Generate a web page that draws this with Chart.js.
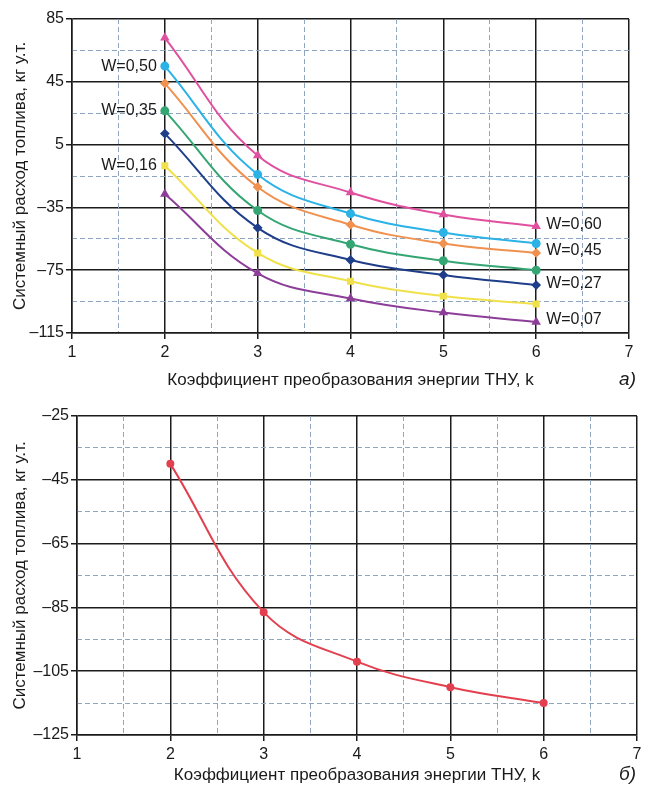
<!DOCTYPE html>
<html>
<head>
<meta charset="utf-8">
<script src="https://cdn.jsdelivr.net/npm/chart.js@4"></script>
<style>
  body { margin: 0; background: #fff; }
  .wrap { position: absolute; left: 0; width: 648px; }
</style>
</head>
<body>
<div class="wrap" style="top:0"><canvas id="chartA" width="648" height="400"></canvas></div>
<div class="wrap" style="top:400px"><canvas id="chartB" width="648" height="399"></canvas></div>
<script>
// k values (коэффициент преобразования)
const kValues = [2, 3, 4, 5, 6];

// chart a) - series per W
const wLabels = ['W=0,60', 'W=0,50', 'W=0,45', 'W=0,35', 'W=0,27', 'W=0,16', 'W=0,07'];
const fuelW060 = [73, -2, -25.5, -39.5, -47];
const fuelW050 = [55, -14, -39, -51, -58];
const fuelW045 = [44, -22, -46, -58, -64];
const fuelW035 = [26.5, -37, -58.5, -69, -75];
const fuelW027 = [12, -48, -68.5, -78, -84.5];
const fuelW016 = [-8.5, -64, -82, -91.5, -96.5];
const fuelW007 = [-26.5, -77, -93, -102, -108];
const labelSide = ['right', 'left', 'right', 'left', 'right', 'left', 'right'];

// chart б)
const fuelTotal = [-40, -86.5, -102, -110, -115];

const xRange = [1, 7];
const yRangeA = [-115, 85];
const yRangeB = [-125, -25];

const FONT = '"Liberation Sans", Arial, sans-serif';
const majorColor = '#1b1b1b';
const minorColor = '#8ea6c0';

const seriesA = [fuelW060, fuelW050, fuelW045, fuelW035, fuelW027, fuelW016, fuelW007];
const colorsA = ['#e0509f', '#2bb2e6', '#f0914f', '#35a673', '#1f3e8a', '#f0e04a', '#8c3e98'];
const stylesA = ['triangle', 'circle', 'rectRot', 'circle', 'rectRot', 'rect', 'triangle'];

function toPoints(arr) {
  return kValues.map((k, i) => ({ x: k, y: arr[i] }));
}

function dashTick(v) {
  return String(v).replace('-', '–');
}

// labels "W=..." next to the first/last point of each curve
const wLabelPlugin = {
  id: 'wLabels',
  afterDatasetsDraw(chart) {
    const ctx = chart.ctx;
    ctx.save();
    ctx.font = '16px ' + FONT;
    ctx.fillStyle = '#1a1a1a';
    ctx.textBaseline = 'middle';
    chart.data.datasets.forEach((ds, i) => {
      const side = labelSide[i];
      const meta = chart.getDatasetMeta(i);
      const pt = side === 'left' ? meta.data[0] : meta.data[meta.data.length - 1];
      ctx.textAlign = side === 'left' ? 'right' : 'left';
      ctx.fillText(ds.label, pt.x + (side === 'left' ? -8 : 10), pt.y - (side === 'left' ? 0 : 2));
    });
    ctx.restore();
  }
};

// "а)" / "б)" caption
const captionPlugin = {
  id: 'caption',
  afterDraw(chart, args, opts) {
    const ctx = chart.ctx;
    ctx.save();
    ctx.font = 'italic 19px ' + FONT;
    ctx.fillStyle = '#1a1a1a';
    ctx.textAlign = 'right';
    ctx.textBaseline = 'middle';
    ctx.fillText(opts.text, chart.width - 12, opts.y);
    ctx.restore();
  }
};

function buildScales(yMin, yMax, yStep, yWidth, xHeight, titlePadBottom) {
  return {
    x: {
      type: 'linear', position: 'bottom', min: xRange[0], max: xRange[1],
      ticks: { stepSize: 1, color: '#1a1a1a', font: { family: FONT, size: 16 }, padding: 4 },
      grid: { color: majorColor, lineWidth: 1.5, tickLength: 6 },
      border: { color: majorColor, width: 1.5 },
      title: {
        display: true, text: 'Коэффициент преобразования энергии ТНУ, k',
        color: '#1a1a1a', font: { family: FONT, size: 17 }, padding: { top: 2, bottom: titlePadBottom }
      },
      afterFit(scale) { scale.height = xHeight; }
    },
    y: {
      type: 'linear', position: 'left', min: yMin, max: yMax,
      ticks: { stepSize: yStep, color: '#1a1a1a', font: { family: FONT, size: 16 }, padding: 2, callback: dashTick },
      grid: { color: majorColor, lineWidth: 1.5, tickLength: 6 },
      border: { color: majorColor, width: 1.5 },
      title: {
        display: true, text: 'Системный расход топлива, кг у.т.',
        color: '#1a1a1a', font: { family: FONT, size: 17 }, padding: { top: 10, bottom: 2 }
      },
      afterFit(scale) { scale.width = yWidth; }
    },
    x2: {
      type: 'linear', position: 'top', min: xRange[0], max: xRange[1],
      ticks: { stepSize: 0.5, display: false },
      grid: {
        drawTicks: false, lineWidth: 1,
        color: c => Number.isInteger(c.tick.value) ? 'rgba(0,0,0,0)' : minorColor
      },
      border: { display: false, dash: [5, 3] },
      afterFit(scale) { scale.height = 0; }
    },
    y2: {
      type: 'linear', position: 'right', min: yMin, max: yMax,
      ticks: { stepSize: yStep / 2, display: false },
      grid: {
        drawTicks: false, lineWidth: 1,
        color: c => ((c.tick.value - yMin) % yStep === 0) ? 'rgba(0,0,0,0)' : minorColor
      },
      border: { display: false, dash: [5, 3] },
      afterFit(scale) { scale.width = 0; }
    }
  };
}

new Chart(document.getElementById('chartA').getContext('2d'), {
  type: 'line',
  data: {
    datasets: seriesA.map((arr, i) => ({
      label: wLabels[i],
      data: toPoints(arr),
      borderColor: colorsA[i],
      backgroundColor: colorsA[i],
      borderWidth: 2,
      pointStyle: stylesA[i],
      pointRadius: 3.5,
      tension: 0.4,
      xAxisID: 'x',
      yAxisID: 'y'
    }))
  },
  options: {
    responsive: false,
    animation: false,
    layout: { padding: { top: 19, right: 19, left: 0, bottom: 0 } },
    plugins: {
      legend: { display: false },
      tooltip: { enabled: false },
      caption: { text: 'а)', y: 380 }
    },
    scales: buildScales(yRangeA[0], yRangeA[1], 40, 72, 67, 9)
  },
  plugins: [wLabelPlugin, captionPlugin]
});

new Chart(document.getElementById('chartB').getContext('2d'), {
  type: 'line',
  data: {
    datasets: [{
      label: 'total',
      data: toPoints(fuelTotal),
      borderColor: '#e2404f',
      backgroundColor: '#e2404f',
      borderWidth: 2,
      pointRadius: 3,
      tension: 0.4,
      xAxisID: 'x',
      yAxisID: 'y'
    }]
  },
  options: {
    responsive: false,
    animation: false,
    layout: { padding: { top: 16, right: 11, left: 0, bottom: 0 } },
    plugins: {
      legend: { display: false },
      tooltip: { enabled: false },
      caption: { text: 'б)', y: 375 }
    },
    scales: buildScales(yRangeB[0], yRangeB[1], 20, 77, 64, 13)
  },
  plugins: [captionPlugin]
});
</script>
</body>
</html>
